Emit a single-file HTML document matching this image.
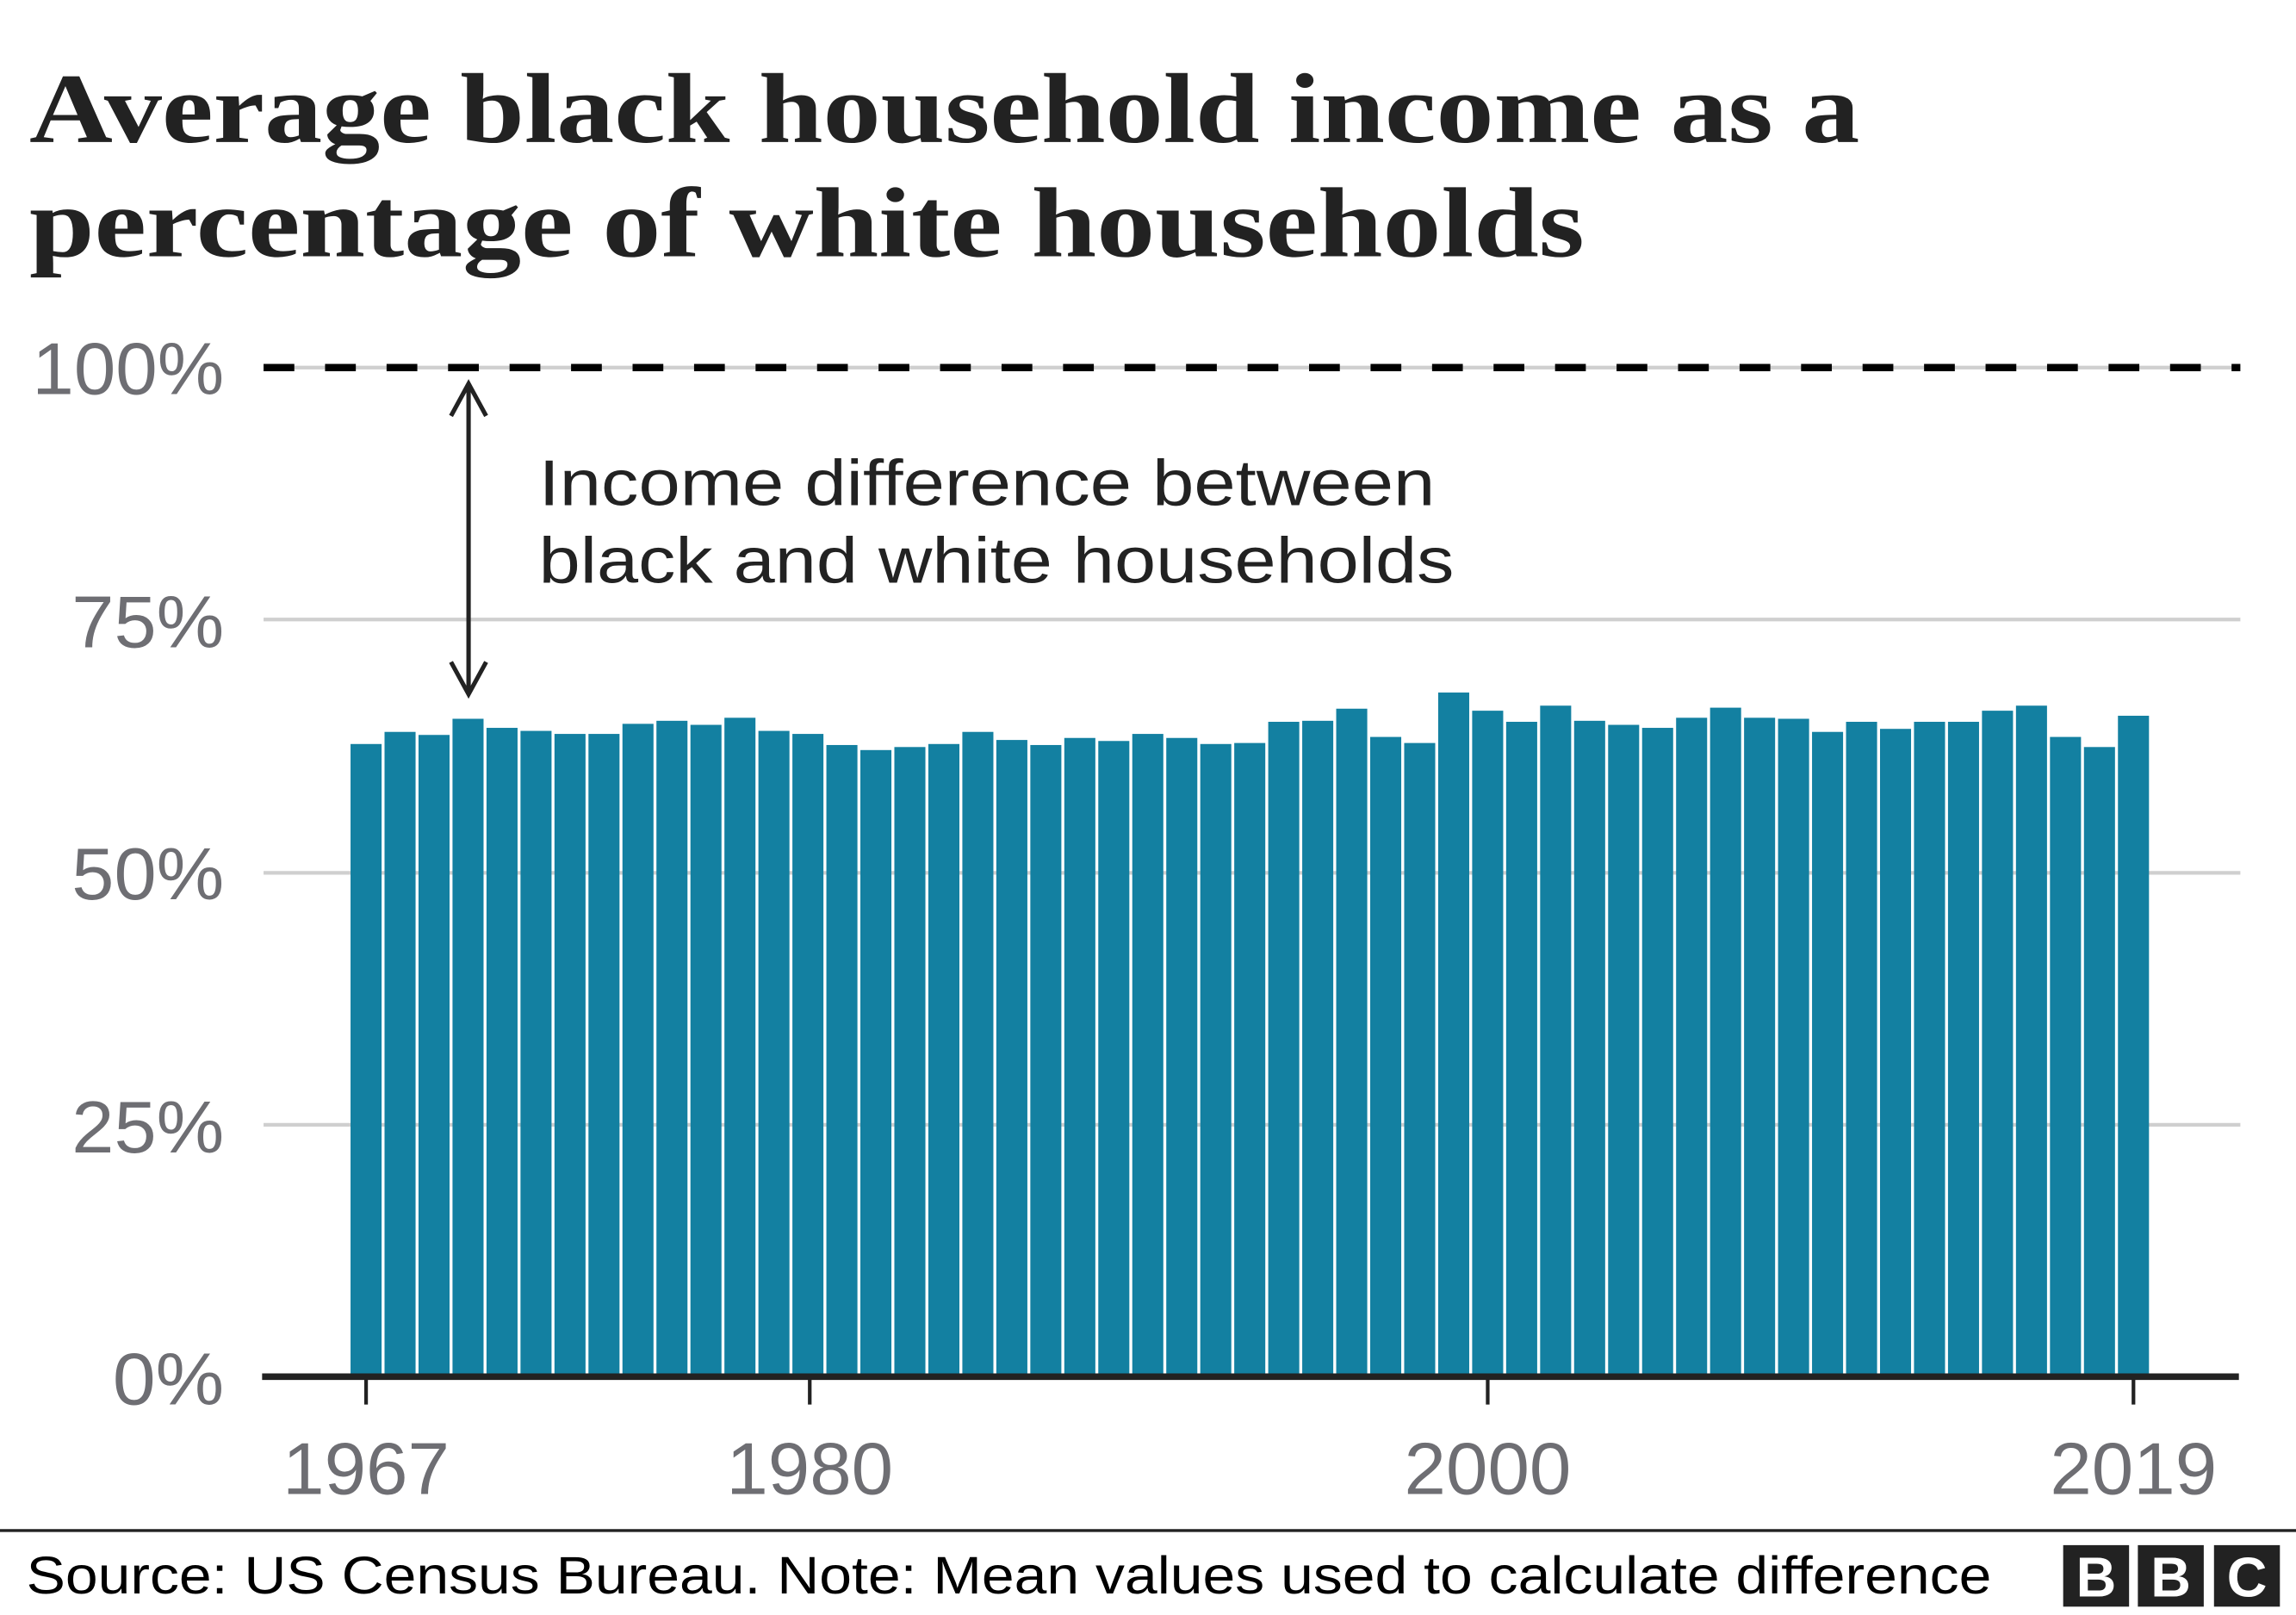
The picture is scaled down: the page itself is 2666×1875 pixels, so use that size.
<!DOCTYPE html>
<html><head><meta charset="utf-8"><style>
html,body{margin:0;padding:0;background:#fff;}
svg{display:block;}
</style></head><body>
<svg width="2666" height="1875" viewBox="0 0 1568 1102.7" preserveAspectRatio="none" xmlns="http://www.w3.org/2000/svg">
<rect width="1568" height="1102.7" fill="#fff"/>
<g font-family="Liberation Serif, serif" font-weight="bold" fill="#222" font-size="68">
<text x="20" y="97" textLength="1250" lengthAdjust="spacingAndGlyphs">Average black household income as a</text>
<text x="20" y="175" textLength="1062" lengthAdjust="spacingAndGlyphs">percentage of white households</text>
</g>
<g stroke="#cfcfcf" stroke-width="2.5">
<line x1="180" y1="251" x2="1530" y2="251"/>
<line x1="180" y1="423" x2="1530" y2="423"/>
<line x1="180" y1="596" x2="1530" y2="596"/>
<line x1="180" y1="768" x2="1530" y2="768"/>
</g>
<line x1="180" y1="251" x2="1530" y2="251" stroke="#000" stroke-width="5" stroke-dasharray="21 21"/>
<g font-family="Liberation Sans, sans-serif" font-size="50" fill="#6e6e73" text-anchor="end">
<text x="153" y="269" textLength="131" lengthAdjust="spacingAndGlyphs">100%</text>
<text x="153" y="442" textLength="104" lengthAdjust="spacingAndGlyphs">75%</text>
<text x="153" y="614" textLength="104" lengthAdjust="spacingAndGlyphs">50%</text>
<text x="153" y="787" textLength="104" lengthAdjust="spacingAndGlyphs">25%</text>
<text x="153" y="959" textLength="76" lengthAdjust="spacingAndGlyphs">0%</text>
</g>
<g fill="#1380A1">
<rect x="239.40" y="508.00" width="21.2" height="432.00"/>
<rect x="262.61" y="499.73" width="21.2" height="440.27"/>
<rect x="285.82" y="501.80" width="21.2" height="438.20"/>
<rect x="309.03" y="490.77" width="21.2" height="449.23"/>
<rect x="332.25" y="496.97" width="21.2" height="443.03"/>
<rect x="355.46" y="499.04" width="21.2" height="440.96"/>
<rect x="378.67" y="501.11" width="21.2" height="438.89"/>
<rect x="401.88" y="501.11" width="21.2" height="438.89"/>
<rect x="425.09" y="494.22" width="21.2" height="445.78"/>
<rect x="448.30" y="492.15" width="21.2" height="447.85"/>
<rect x="471.52" y="494.91" width="21.2" height="445.09"/>
<rect x="494.73" y="490.08" width="21.2" height="449.92"/>
<rect x="517.94" y="499.04" width="21.2" height="440.96"/>
<rect x="541.15" y="501.11" width="21.2" height="438.89"/>
<rect x="564.36" y="508.69" width="21.2" height="431.31"/>
<rect x="587.57" y="512.13" width="21.2" height="427.87"/>
<rect x="610.78" y="510.06" width="21.2" height="429.94"/>
<rect x="634.00" y="508.00" width="21.2" height="432.00"/>
<rect x="657.21" y="499.73" width="21.2" height="440.27"/>
<rect x="680.42" y="505.24" width="21.2" height="434.76"/>
<rect x="703.63" y="508.69" width="21.2" height="431.31"/>
<rect x="726.84" y="503.86" width="21.2" height="436.14"/>
<rect x="750.05" y="505.93" width="21.2" height="434.07"/>
<rect x="773.26" y="501.11" width="21.2" height="438.89"/>
<rect x="796.48" y="503.86" width="21.2" height="436.14"/>
<rect x="819.69" y="508.00" width="21.2" height="432.00"/>
<rect x="842.90" y="507.31" width="21.2" height="432.69"/>
<rect x="866.11" y="492.84" width="21.2" height="447.16"/>
<rect x="889.32" y="492.15" width="21.2" height="447.85"/>
<rect x="912.53" y="483.88" width="21.2" height="456.12"/>
<rect x="935.75" y="503.17" width="21.2" height="436.83"/>
<rect x="958.96" y="507.31" width="21.2" height="432.69"/>
<rect x="982.17" y="472.86" width="21.2" height="467.14"/>
<rect x="1005.38" y="485.26" width="21.2" height="454.74"/>
<rect x="1028.59" y="492.84" width="21.2" height="447.16"/>
<rect x="1051.80" y="481.81" width="21.2" height="458.19"/>
<rect x="1075.01" y="492.15" width="21.2" height="447.85"/>
<rect x="1098.23" y="494.91" width="21.2" height="445.09"/>
<rect x="1121.44" y="496.97" width="21.2" height="443.03"/>
<rect x="1144.65" y="490.08" width="21.2" height="449.92"/>
<rect x="1167.86" y="483.19" width="21.2" height="456.81"/>
<rect x="1191.07" y="490.08" width="21.2" height="449.92"/>
<rect x="1214.28" y="490.77" width="21.2" height="449.23"/>
<rect x="1237.49" y="499.73" width="21.2" height="440.27"/>
<rect x="1260.71" y="492.84" width="21.2" height="447.16"/>
<rect x="1283.92" y="497.66" width="21.2" height="442.34"/>
<rect x="1307.13" y="492.84" width="21.2" height="447.16"/>
<rect x="1330.34" y="492.84" width="21.2" height="447.16"/>
<rect x="1353.55" y="485.26" width="21.2" height="454.74"/>
<rect x="1376.76" y="481.81" width="21.2" height="458.19"/>
<rect x="1399.98" y="503.17" width="21.2" height="436.83"/>
<rect x="1423.19" y="510.06" width="21.2" height="429.94"/>
<rect x="1446.40" y="488.70" width="21.2" height="451.30"/>
</g>
<line x1="179" y1="940" x2="1529" y2="940" stroke="#222" stroke-width="4.5"/>
<g stroke="#222" stroke-width="2.5">
<line x1="250" y1="940" x2="250" y2="959"/>
<line x1="553" y1="940" x2="553" y2="959"/>
<line x1="1016" y1="940" x2="1016" y2="959"/>
<line x1="1457" y1="940" x2="1457" y2="959"/>
</g>
<g font-family="Liberation Sans, sans-serif" font-size="50" fill="#6e6e73" text-anchor="middle">
<text x="250" y="1020" textLength="114" lengthAdjust="spacingAndGlyphs">1967</text>
<text x="553" y="1020" textLength="114" lengthAdjust="spacingAndGlyphs">1980</text>
<text x="1016" y="1020" textLength="114" lengthAdjust="spacingAndGlyphs">2000</text>
<text x="1457" y="1020" textLength="114" lengthAdjust="spacingAndGlyphs">2019</text>
</g>
<g stroke="#222" stroke-width="3" fill="none">
<line x1="320" y1="264" x2="320" y2="472"/>
<polyline points="308,284 320,262 332,284"/>
<polyline points="308,452 320,474 332,452"/>
</g>
<g font-family="Liberation Sans, sans-serif" font-size="44" fill="#222">
<text x="368" y="345" textLength="612" lengthAdjust="spacingAndGlyphs">Income difference between</text>
<text x="368" y="398" textLength="625" lengthAdjust="spacingAndGlyphs">black and white households</text>
</g>
<line x1="0" y1="1045" x2="1568" y2="1045" stroke="#222" stroke-width="2"/>
<text x="18" y="1088" font-family="Liberation Sans, sans-serif" font-size="36" fill="#000" textLength="1342" lengthAdjust="spacingAndGlyphs">Source: US Census Bureau. Note: Mean values used to calculate difference</text>
<g fill="#222">
<rect x="1409" y="1055" width="45" height="42"/>
<rect x="1460" y="1055" width="45" height="42"/>
<rect x="1512" y="1055" width="45" height="42"/>
</g>
<g font-family="Liberation Sans, sans-serif" font-weight="bold" font-size="38" fill="#fff" text-anchor="middle">
<text x="1431.5" y="1090">B</text>
<text x="1482.5" y="1090">B</text>
<text x="1534.5" y="1090">C</text>
</g>
</svg>
</body></html>
